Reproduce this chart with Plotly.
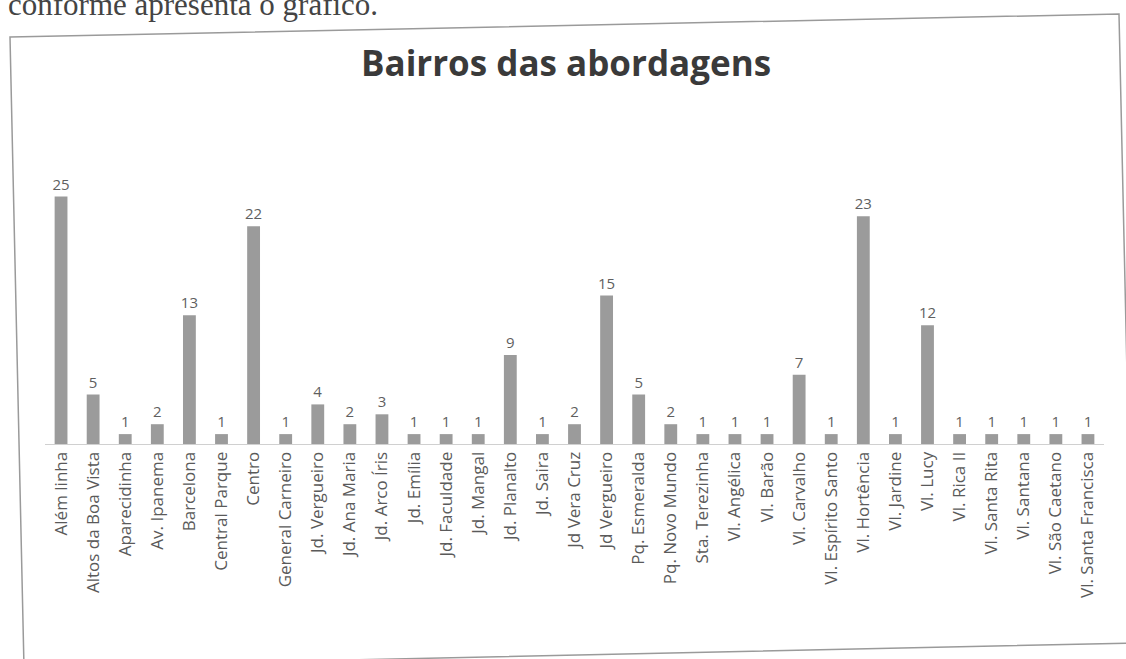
import plotly.graph_objects as go

W, H = 1126, 659

bairros = [
    "Além linha", "Altos da Boa Vista", "Aparecidinha", "Av. Ipanema", "Barcelona",
    "Central Parque", "Centro", "General Carneiro", "Jd. Vergueiro", "Jd. Ana Maria",
    "Jd. Arco Íris", "Jd. Emília", "Jd. Faculdade", "Jd. Mangal", "Jd. Planalto",
    "Jd. Saira", "Jd Vera Cruz", "Jd Vergueiro", "Pq. Esmeralda", "Pq. Novo Mundo",
    "Sta. Terezinha", "Vl. Angélica", "Vl. Barão", "Vl. Carvalho", "Vl. Espírito Santo",
    "Vl. Hortência", "Vl. Jardine", "Vl. Lucy", "Vl. Rica II", "Vl. Santa Rita",
    "Vl. Santana", "Vl. São Caetano", "Vl. Santa Francisca",
]
abordagens = [25, 5, 1, 2, 13, 1, 22, 1, 4, 2, 3, 1, 1, 1, 9, 1, 2, 15, 5, 2,
              1, 1, 1, 7, 1, 23, 1, 12, 1, 1, 1, 1, 1]

titulo = "Bairros das abordagens"
texto_pagina = "conforme apresenta o gráfico."

fig = go.Figure(
    go.Bar(
        x=bairros,
        y=abordagens,
        text=[str(v) for v in abordagens],
        textposition="outside",
        constraintext="none",
        cliponaxis=False,
        textfont=dict(family="Open Sans", size=15, color="#5f5f5f"),
        marker=dict(color="#9b9b9b", line=dict(width=0)),
        hoverinfo="x+y",
    )
)


def px(x):
    return x / W


def py(y):
    return 1 - y / H


# slightly tilted frame of the scanned chart
pts = [(10, 37), (1119, 14), (1133, 643), (24, 667)]
path = "M " + " L ".join(f"{px(x):.5f},{py(y):.5f}" for x, y in pts) + " Z"

fig.update_layout(
    width=W,
    height=H,
    margin=dict(l=0, r=0, t=0, b=0),
    paper_bgcolor="white",
    plot_bgcolor="rgba(0,0,0,0)",
    bargap=0.6,
    showlegend=False,
    xaxis=dict(
        domain=[px(45), px(1104)],
        type="category",
        tickangle=-90,
        tickfont=dict(family="Open Sans", size=17, color="#5a5a5a"),
        showline=True,
        linecolor="#d0d0d0",
        linewidth=1,
        ticks="",
        showgrid=False,
    ),
    yaxis=dict(
        domain=[py(444), py(147)],
        range=[0, 30],
        visible=False,
    ),
    shapes=[
        dict(type="path", path=path, xref="paper", yref="paper",
             line=dict(color="#9a9a9a", width=1.5), fillcolor="rgba(0,0,0,0)",
             layer="below"),
    ],
    annotations=[
        dict(text=f"<b>{titulo}</b>", x=px(566), y=py(62), xref="paper", yref="paper",
             xanchor="center", yanchor="middle", showarrow=False,
             font=dict(family="Open Sans", size=35, color="#3a3a3a")),
        dict(text=texto_pagina, x=px(6), y=py(24), xref="paper", yref="paper",
             xanchor="left", yanchor="bottom", showarrow=False,
             font=dict(family="Liberation Serif", size=31, color="#444444")),
    ],
)

fig.write_html(
    "out.html",
    config={"displayModeBar": False},
    post_script="document.body.style.margin='0px';",
)
